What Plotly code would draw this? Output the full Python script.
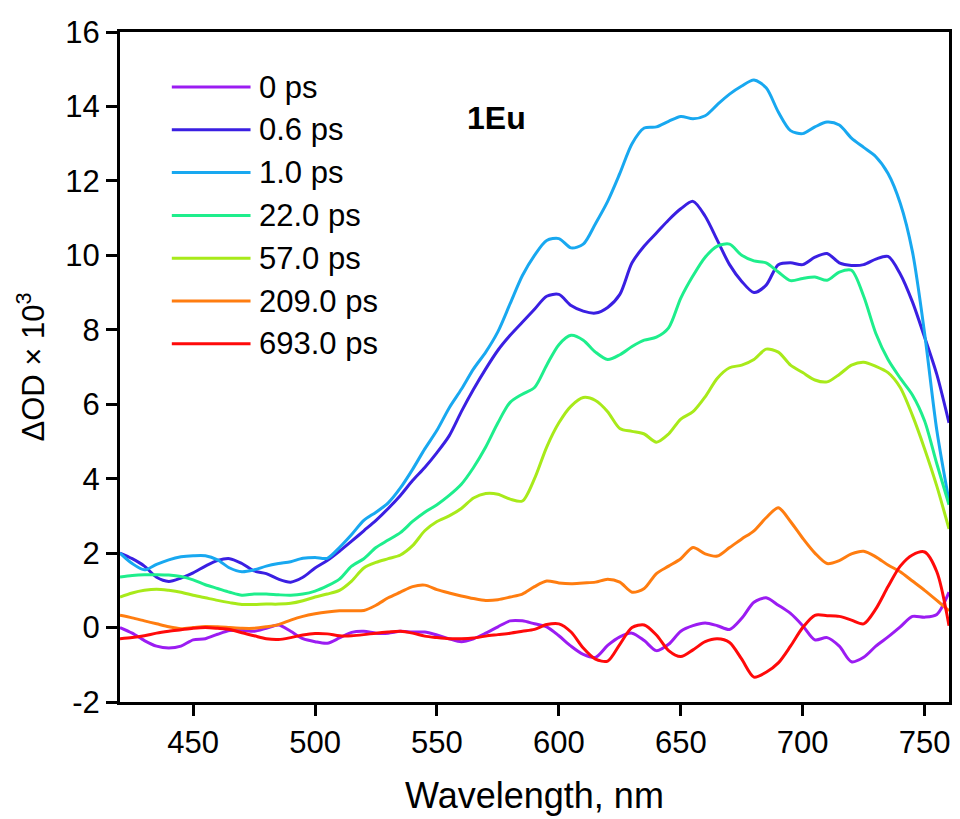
import plotly.graph_objects as go

wavelength = list(range(420, 761, 5))

ps_0 = [0.0, -0.15, -0.35, -0.5, -0.55, -0.5, -0.33, -0.3, -0.18, -0.08,
        -0.07, -0.1, -0.02, 0.07, -0.1, -0.3, -0.38, -0.42, -0.28, -0.13,
        -0.1, -0.15, -0.15, -0.1, -0.12, -0.12, -0.2, -0.3, -0.38, -0.3,
        -0.15, 0.02, 0.18, 0.18, 0.1, 0.02, -0.22, -0.5, -0.72, -0.8,
        -0.48, -0.25, -0.15, -0.35, -0.62, -0.45, -0.1, 0.05, 0.12, 0.05,
        -0.05, 0.25, 0.68, 0.8, 0.6, 0.38, 0.05, -0.33, -0.27, -0.5,
        -0.92, -0.8, -0.5, -0.25, 0.02, 0.3, 0.28, 0.35, 0.95]

ps_0_6 = [2.0, 1.85, 1.65, 1.35, 1.24, 1.33, 1.47, 1.65, 1.8, 1.85,
          1.72, 1.52, 1.45, 1.3, 1.22, 1.35, 1.6, 1.8, 2.05, 2.32,
          2.6, 2.88, 3.2, 3.55, 3.95, 4.3, 4.7, 5.15, 5.8, 6.4,
          6.95, 7.45, 7.85, 8.2, 8.55, 8.9, 8.95, 8.65, 8.5, 8.45,
          8.6, 8.95, 9.8, 10.25, 10.6, 10.95, 11.25, 11.45, 11.05, 10.4,
          9.75, 9.3, 9.0, 9.2, 9.75, 9.8, 9.75, 9.95, 10.05, 9.8,
          9.73, 9.75, 9.9, 9.97, 9.5, 8.75, 7.8, 6.8, 5.5]

ps_1_0 = [2.0, 1.72, 1.55, 1.7, 1.82, 1.9, 1.93, 1.93, 1.82, 1.6,
          1.5, 1.55, 1.65, 1.72, 1.77, 1.86, 1.88, 1.86, 2.15, 2.5,
          2.88, 3.1, 3.35, 3.75, 4.25, 4.8, 5.3, 5.9, 6.4, 6.95,
          7.4, 7.95, 8.7, 9.45, 10.0, 10.4, 10.45, 10.2, 10.3, 10.85,
          11.45, 12.2, 13.0, 13.42, 13.45, 13.6, 13.73, 13.67, 13.75, 14.05,
          14.33, 14.55, 14.71, 14.5, 13.85, 13.35, 13.27, 13.45, 13.58, 13.5,
          13.15, 12.9, 12.65, 12.2, 11.4, 10.1, 7.9, 5.3, 3.4]

ps_22 = [1.36, 1.4, 1.42, 1.42, 1.41, 1.37, 1.28, 1.15, 1.05, 0.95,
         0.87, 0.9, 0.9, 0.88, 0.87, 0.9, 0.98, 1.12, 1.3, 1.65,
         1.85, 2.15, 2.35, 2.55, 2.85, 3.1, 3.3, 3.55, 3.85, 4.3,
         4.85, 5.5, 6.05, 6.27, 6.45, 7.05, 7.6, 7.85, 7.72, 7.4,
         7.2, 7.33, 7.55, 7.72, 7.8, 8.05, 8.85, 9.45, 9.95, 10.25,
         10.3, 10.0, 9.85, 9.8, 9.55, 9.32, 9.38, 9.42, 9.33, 9.55,
         9.6, 8.9, 7.9, 7.2, 6.7, 6.25, 5.55, 4.4, 3.3]

ps_57 = [0.82, 0.93, 1.0, 1.03, 1.0, 0.95, 0.87, 0.8, 0.73, 0.67,
         0.62, 0.62, 0.63, 0.63, 0.65, 0.72, 0.82, 0.9, 1.0, 1.25,
         1.6, 1.75, 1.85, 1.95, 2.2, 2.6, 2.85, 3.0, 3.2, 3.48,
         3.6, 3.58, 3.45, 3.4, 4.0, 4.85, 5.5, 5.95, 6.18, 6.1,
         5.8, 5.35, 5.27, 5.2, 4.98, 5.2, 5.6, 5.8, 6.2, 6.7,
         6.98, 7.05, 7.2, 7.48, 7.4, 7.05, 6.85, 6.65, 6.6, 6.8,
         7.05, 7.13, 7.02, 6.85, 6.45, 5.7, 4.8, 3.8, 2.65]

ps_209 = [0.33, 0.26, 0.18, 0.1, 0.02, -0.03, 0.0, 0.03, 0.02, 0.0,
          -0.02, -0.02, 0.02, 0.08, 0.2, 0.3, 0.37, 0.42, 0.45, 0.45,
          0.46, 0.6, 0.8, 0.95, 1.1, 1.14, 1.02, 0.93, 0.85, 0.78,
          0.73, 0.75, 0.82, 0.9, 1.1, 1.25, 1.2, 1.18, 1.2, 1.22,
          1.3, 1.22, 0.95, 1.05, 1.45, 1.65, 1.85, 2.15, 1.98, 1.92,
          2.15, 2.38, 2.6, 2.95, 3.22, 2.85, 2.4, 2.0, 1.72, 1.8,
          1.98, 2.05, 1.9, 1.68, 1.5, 1.25, 1.0, 0.73, 0.45]

ps_693 = [-0.3, -0.27, -0.22, -0.15, -0.1, -0.06, -0.02, 0.0, -0.02, -0.05,
          -0.14, -0.22, -0.3, -0.32, -0.27, -0.2, -0.16, -0.17, -0.22, -0.22,
          -0.19, -0.15, -0.12, -0.1, -0.15, -0.23, -0.27, -0.3, -0.3, -0.28,
          -0.23, -0.19, -0.15, -0.1, -0.05, 0.08, 0.1, -0.12, -0.55, -0.85,
          -0.9, -0.45, 0.0, 0.07, -0.2, -0.62, -0.78, -0.6, -0.38, -0.3,
          -0.4, -0.85, -1.33, -1.2, -0.95, -0.5, 0.0, 0.33, 0.32, 0.3,
          0.2, 0.1, 0.5, 1.1, 1.65, 1.95, 2.03, 1.5, 0.05]

series_names = ["0 ps", "0.6 ps", "1.0 ps", "22.0 ps", "57.0 ps", "209.0 ps", "693.0 ps"]
series_values = [ps_0, ps_0_6, ps_1_0, ps_22, ps_57, ps_209, ps_693]
series_colors = ["#9B1CF2", "#3A1FE2", "#18A8F0", "#1EEE8C", "#A8EA1A", "#FF7D10", "#FF0A0A"]

x_ticks = [450, 500, 550, 600, 650, 700, 750]
y_ticks = [-2, 0, 2, 4, 6, 8, 10, 12, 14, 16]
y_tick_text = ["-2", "0", "2", "4", "6", "8", "10", "12", "14", "16"]

FONT = "Liberation Sans, Arial, sans-serif"

fig = go.Figure()
for name, vals, col in zip(series_names, series_values, series_colors):
    fig.add_trace(go.Scatter(
        x=wavelength, y=vals, name=name, mode="lines",
        line=dict(color=col, width=3, shape="spline", smoothing=0.8),
        showlegend=False,
    ))

# custom legend (long sample lines like the original)
leg_top = 87
leg_step = 42.8
for i, (name, col) in enumerate(zip(series_names, series_colors)):
    py = leg_top + i * leg_step
    yp = (702 - py) / 670
    fig.add_shape(type="line", xref="paper", yref="paper",
                  x0=(172 - 120) / 832, x1=(251 - 120) / 832, y0=yp, y1=yp,
                  line=dict(color=col, width=3))
    fig.add_annotation(xref="paper", yref="paper", x=(257 - 120) / 832, y=yp,
                       text=name, showarrow=False, xanchor="left", yanchor="middle",
                       font=dict(family=FONT, size=31, color="black"))

fig.add_annotation(xref="paper", yref="paper", x=(498 - 120) / 832, y=(702 - 118) / 670,
                   text="<b>1Eu</b>", showarrow=False, xanchor="center", yanchor="middle",
                   font=dict(family=FONT, size=32, color="black"))

axis_common = dict(
    showline=True, linewidth=3, linecolor="black", mirror=True,
    ticks="outside", ticklen=11, tickwidth=3, tickcolor="black",
    showgrid=False, zeroline=False,
    tickfont=dict(family=FONT, size=31, color="black"),
)

fig.update_layout(
    width=960, height=819,
    margin=dict(l=120, r=8, t=32, b=117),
    paper_bgcolor="white", plot_bgcolor="white",
    xaxis=dict(range=[420, 760], tickvals=x_ticks,
               title=dict(text="Wavelength, nm", font=dict(family=FONT, size=36, color="black"), standoff=24),
               **axis_common),
    yaxis=dict(range=[-2, 16], tickvals=y_ticks, ticktext=y_tick_text,
               title=dict(text="\u0394OD \u00d7 10<sup>3</sup>", font=dict(family=FONT, size=31, color="black"), standoff=12),
               **axis_common),
)

fig.write_html("out.html")
